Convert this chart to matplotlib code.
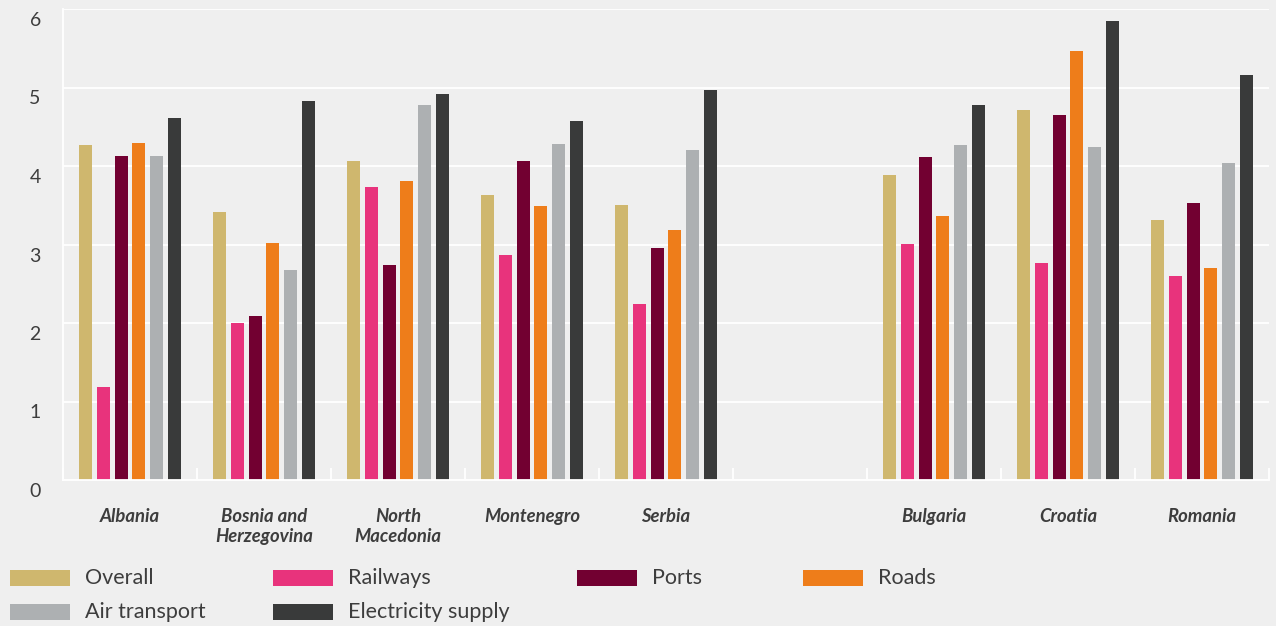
import matplotlib

matplotlib.use("Agg")
import matplotlib.pyplot as plt
import matplotlib.transforms as mtransforms
from matplotlib.patches import Rectangle
import numpy as np

countries = ["Albania", "Bosnia and\nHerzegovina", "North\nMacedonia", "Montenegro", "Serbia",
             "Bulgaria", "Croatia", "Romania"]
# Western Balkans first, then a blank slot, then EU members
gap_after = 5

series = ["Overall", "Railways", "Ports", "Roads", "Air transport", "Electricity supply"]
colors = ["#cfb76e", "#e8337c", "#720031", "#ee7d1a", "#adb0b2", "#393a3a"]

overall = [4.27, 3.41, 4.06, 3.63, 3.50, 3.89, 4.71, 3.31]
railways = [1.18, 2.00, 3.73, 2.87, 2.24, 3.01, 2.76, 2.60]
ports = [4.13, 2.09, 2.74, 4.06, 2.96, 4.11, 4.65, 3.53]
roads = [4.29, 3.02, 3.81, 3.49, 3.18, 3.36, 5.46, 2.70]
air = [4.13, 2.68, 4.78, 4.28, 4.20, 4.27, 4.24, 4.04]
electricity = [4.61, 4.83, 4.92, 4.57, 4.97, 4.78, 5.85, 5.16]
values = [overall, railways, ports, roads, air, electricity]

BG = "#efefef"
TXT = "#3d3d3d"

plt.rcParams["font.family"] = ["Lato", "DejaVu Sans"]

fig = plt.figure(figsize=(12.76, 6.26), dpi=100, facecolor=BG)
W, H = 1276, 626
ax = fig.add_axes([63 / W, 1 - 480 / H, (1269 - 63) / W, (480 - 9) / H], facecolor=BG)

x = np.array([i if i < gap_after else i + 1 for i in range(len(countries))], dtype=float)
step = 0.134
bw = 0.097
for i, (name, vals, col) in enumerate(zip(series, values, colors)):
    ax.bar(x + (i - 2.5) * step, vals, width=bw, color=col, label=name, zorder=3)

ax.set_xlim(-0.5, 8.5)
ax.set_ylim(0, 6)
ax.set_yticks(range(7))
ax.grid(axis="y", color="white", lw=1.3, zorder=1)
for s in ["top", "right"]:
    ax.spines[s].set_visible(False)
for s in ["left", "bottom"]:
    ax.spines[s].set_color("white")
    ax.spines[s].set_linewidth(1.3)
    ax.spines[s].set_zorder(4)

ax.set_xticks(x)
ax.set_xticklabels(countries, fontsize=13.3, fontweight="bold", fontstyle="italic", color=TXT,
                   linespacing=1.2)
ax.tick_params(axis="x", length=0, pad=20)
ax.set_xticks(np.arange(-0.5, 9.0, 1.0), minor=True)
ax.tick_params(axis="x", which="minor", direction="in", length=9, width=1.3, color="white")
ax.tick_params(axis="y", length=0, pad=16, labelsize=14, labelcolor=TXT)
offset = mtransforms.ScaledTranslation(0, -10 / 100, fig.dpi_scale_trans)
for lab in ax.get_yticklabels():
    lab.set_transform(lab.get_transform() + offset)

# legend laid out in rows like the source figure
leg_pos = [(10, 578), (273, 578), (577, 578), (803, 578), (10, 612), (273, 612)]
for (px, py), name, col in zip(leg_pos, series, colors):
    fig.add_artist(Rectangle((px / W, 1 - (py + 8) / H), 60 / W, 16 / H,
                             transform=fig.transFigure, color=col, lw=0))
    fig.text((px + 75) / W, 1 - py / H, name, fontsize=15.5, color=TXT, va="center", ha="left")

fig.savefig("out.png", dpi=100, facecolor=BG)
